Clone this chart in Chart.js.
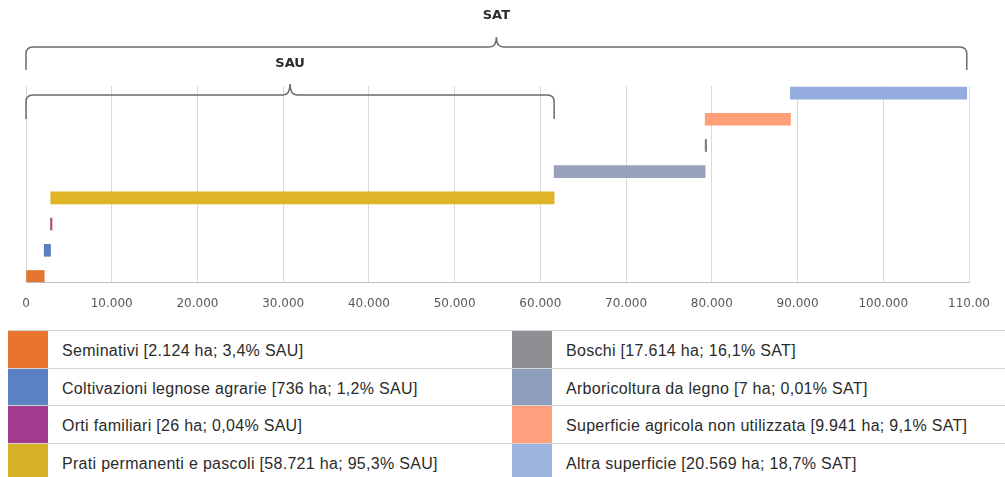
<!DOCTYPE html>
<html lang="it">
<head>
<meta charset="utf-8">
<title>SAT / SAU</title>
<script src="https://cdn.jsdelivr.net/npm/chart.js@4.4.1/dist/chart.umd.min.js"></script>
<style>
  html, body { margin: 0; padding: 0; background: #fff; }
  body { width: 1005px; height: 477px; overflow: hidden; position: relative; }
  #chartBox { position: absolute; left: 0; top: 0; width: 1005px; height: 330px; }
  #legenda { position: absolute; left: 8px; top: 330px; width: 997px; }
  .riga { position: absolute; height: 37px; border-top: 1px solid #d4d4d4; box-sizing: content-box; }
  .sw { position: absolute; left: 0; top: 0; width: 40px; height: 37.5px; }
  .txt {
    position: absolute; left: 54px; top: 11px; white-space: nowrap;
    font: 16px "Liberation Sans", Arial, sans-serif; letter-spacing: 0.3px; color: #2b2b2b;
  }
</style>
</head>
<body>
<div id="chartBox"><canvas id="satChart"></canvas></div>
<div id="legenda"></div>

<script>
(function () {
  'use strict';

  // categorie dal basso verso l'alto (stesso ordine della legenda)
  const categorie = [
    'Seminativi', 'Coltivazioni legnose agrarie', 'Orti familiari', 'Prati permanenti e pascoli',
    'Boschi', 'Arboricoltura da legno', 'Superficie agricola non utilizzata', 'Altra superficie'
  ];
  // ettari per categoria
  const ettari = [2124, 736, 26, 58721, 17614, 7, 9941, 20569];
  const legendaTesti = [
    'Seminativi [2.124 ha; 3,4% SAU]',
    'Coltivazioni legnose agrarie [736 ha; 1,2% SAU]',
    'Orti familiari [26 ha; 0,04% SAU]',
    'Prati permanenti e pascoli [58.721 ha; 95,3% SAU]',
    'Boschi [17.614 ha; 16,1% SAT]',
    'Arboricoltura da legno [7 ha; 0,01% SAT]',
    'Superficie agricola non utilizzata [9.941 ha; 9,1% SAT]',
    'Altra superficie [20.569 ha; 18,7% SAT]'
  ];
  const tickLabels = ['0', '10.000', '20.000', '30.000', '40.000', '50.000',
    '60.000', '70.000', '80.000', '90.000', '100.000', '110.00'];
  const nSau = 4; // le prime 4 voci formano la SAU

  // colori barre (come nel grafico) e quadratini della legenda
  const coloriBarre = ['#E2752F', '#5A7FBF', '#B84A62', '#DDB526', '#97A1B9', '#7F7F7F', '#FF9F78', '#93ABDF'];
  const coloriLegenda = ['#E8742F', '#5B80C3', '#A23A8E', '#D9B127', '#8E8F93', '#8E9DBC', '#FFA07E', '#9DB4E1'];

  // inizio/fine cumulati (cascata)
  const inizi = [];
  let acc = 0;
  ettari.forEach(v => { inizi.push(acc); acc += v; });
  const totSat = acc;
  const totSau = ettari.slice(0, nSau).reduce((a, b) => a + b, 0);

  // -------- parentesi graffe SAT / SAU --------
  function graffa(ctx, x1, x2, y, giu, su) {
    const mid = (x1 + x2) / 2, r = 7;
    ctx.beginPath();
    ctx.moveTo(x1, y + giu);
    ctx.lineTo(x1, y + r);
    ctx.quadraticCurveTo(x1, y, x1 + r, y);
    ctx.lineTo(mid - 7, y);
    ctx.quadraticCurveTo(mid, y, mid, y - su);
    ctx.quadraticCurveTo(mid, y, mid + 7, y);
    ctx.lineTo(x2 - r, y);
    ctx.quadraticCurveTo(x2, y, x2, y + r);
    ctx.lineTo(x2, y + giu);
    ctx.stroke();
  }

  const graffePlugin = {
    id: 'graffe',
    afterDraw(chart) {
      const ctx = chart.ctx, sx = chart.scales.x;
      const x0 = sx.getPixelForValue(0);
      const xSat = sx.getPixelForValue(totSat);
      const xSau = sx.getPixelForValue(totSau);
      ctx.save();
      ctx.strokeStyle = '#6b6b6b';
      ctx.lineWidth = 1.5;
      graffa(ctx, x0, xSat, 47, 23, 10);
      graffa(ctx, x0, xSau, 95, 24, 11);
      ctx.fillStyle = '#2b2b2b';
      ctx.font = 'bold 13px "DejaVu Sans", sans-serif';
      ctx.textAlign = 'center';
      ctx.textBaseline = 'middle';
      ctx.fillText('SAT', (x0 + xSat) / 2, 16);
      ctx.fillText('SAU', (x0 + xSau) / 2, 64);
      ctx.restore();
    }
  };

  new Chart(document.getElementById('satChart'), {
    type: 'bar',
    data: {
      datasets: [{
        label: 'Superficie',
        data: categorie.map((c, i) => ({ y: i, x: [inizi[i], inizi[i] + ettari[i]] })),
        backgroundColor: coloriBarre,
        barThickness: 12,
        minBarLength: 1.5,
        borderWidth: 0
      }]
    },
    options: {
      indexAxis: 'y',
      responsive: true,
      maintainAspectRatio: false,
      animation: false,
      layout: { padding: { left: 26, right: 35, top: 86, bottom: 0 } },
      plugins: { legend: { display: false }, tooltip: { enabled: false } },
      scales: {
        x: {
          type: 'linear', min: 0, max: 110000,
          grid: { color: '#D9D9D9', drawTicks: false },
          border: { display: true, color: '#BFBFBF' },
          ticks: {
            stepSize: 10000, padding: 15, color: '#595959',
            font: { family: 'DejaVu Sans', size: 12 },
            callback: (v, i) => tickLabels[i]
          },
          afterFit: s => { s.height = 48; }
        },
        y: { type: 'linear', min: -0.21, max: 7.27, offset: false, display: false }
      }
    },
    plugins: [graffePlugin]
  });

  // -------- legenda a tabella --------
  const leg = document.getElementById('legenda');
  legendaTesti.forEach((t, i) => {
    const col = i < nSau ? 0 : 1, row = i % nSau;
    const div = document.createElement('div');
    div.className = 'riga';
    div.style.top = (row * 37.7) + 'px';
    div.style.left = (col ? 504 : 0) + 'px';
    div.style.width = (col ? 493 : 504) + 'px';
    div.innerHTML = `<div class="sw" style="background:${coloriLegenda[i]}"></div><div class="txt">${t}</div>`;
    leg.appendChild(div);
  });
})();
</script>
</body>
</html>
